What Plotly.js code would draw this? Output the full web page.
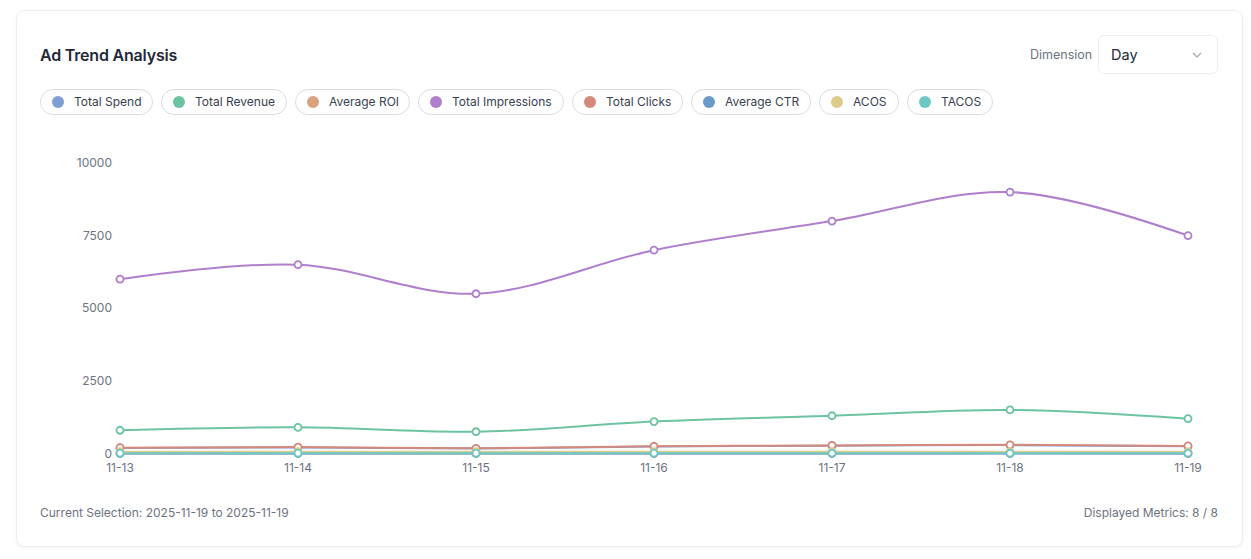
<!DOCTYPE html>
<html>
<head>
<meta charset="utf-8">
<script src="https://cdn.plot.ly/plotly-3.0.1.min.js"></script>
<style>
  html, body { margin:0; padding:0; background:#ffffff; font-family: Inter, "Noto Sans", sans-serif; }
  #page { position:relative; width:1251px; height:559px; overflow:hidden; }
  #card { position:absolute; left:16px; top:10px; width:1225px; height:535px; border:1px solid #eceef1; border-radius:8px; box-shadow:0 1px 3px rgba(0,0,0,0.05); background:#fff; }
  #title { position:absolute; left:40px; top:45px; font-size:16px; font-weight:600; color:#1f2937; letter-spacing:-0.2px; }
  #dimlabel { position:absolute; left:1030px; top:47px; font-size:12.5px; color:#6b7280; }
  #select { position:absolute; left:1098px; top:35px; width:120px; height:39px; border:1px solid #eceef1; border-radius:6px; box-sizing:border-box; }
  #select span { position:absolute; left:12px; top:10px; font-size:14.5px; color:#1f2937; }
  #select svg { position:absolute; left:93px; top:16px; }
  #pills { position:absolute; left:40px; top:89px; height:26px; }
  .pill { position:absolute; top:0; height:24px; border:1px solid #d9dce1; border-radius:13px; box-sizing:content-box; font-size:12px; color:#374151; line-height:24px; white-space:nowrap; }
  .pill .dot { position:absolute; left:11px; top:6px; width:12px; height:12px; border-radius:50%; }
  .pill .lbl { position:absolute; left:33px; top:0; }
  #plot { position:absolute; left:0; top:0; width:1251px; height:559px; }
  #foot1 { position:absolute; left:40px; top:505px; font-size:12px; color:#6b7280; }
  #foot2 { position:absolute; right:33px; top:505px; font-size:12px; color:#6b7280; }
</style>
</head>
<body>
<div id="page">
  <div id="card"></div>
  <div id="plot"></div>
  <div id="title">Ad Trend Analysis</div>
  <div id="dimlabel">Dimension</div>
  <div id="select"><span>Day</span>
    <svg width="10" height="7" viewBox="0 0 10 7"><polyline points="1,1 5,5 9,1" fill="none" stroke="#9ca3af" stroke-width="1.2"/></svg>
  </div>
  <div id="pills"></div>
  <div id="foot1">Current Selection: 2025-11-19 to 2025-11-19</div>
  <div id="foot2">Displayed Metrics: 8 / 8</div>
</div>
<script>
const dates = ["11-13","11-14","11-15","11-16","11-17","11-18","11-19"];
const seriesNames = ["Total Spend","Total Revenue","Average ROI","Total Impressions","Total Clicks","Average CTR","ACOS","TACOS"];
const seriesColors = ["#7e9fd6","#6cc3a0","#d9a27c","#b07fcc","#d5897b","#6a9bc8","#dccb8a","#6cc8c5"];
const totalSpend = [190,210,170,240,270,290,250];
const totalRevenue = [800,900,750,1100,1300,1500,1200];
const averageROI = [4,4.1,4.2,4.4,4.6,5,4.6];
const totalImpressions = [6000,6500,5500,7000,8000,9000,7500];
const totalClicks = [200,220,180,250,280,300,260];
const averageCTR = [3.3,3.4,3.3,3.6,3.5,3.3,3.5];
const acos = [60,60,60,60,60,60,60];
const tacos = [12,11,12,11,10,9,10];
const yTicks = [0,2500,5000,7500,10000];

const allValues = [totalSpend,totalRevenue,averageROI,totalImpressions,totalClicks,averageCTR,acos,tacos];

// pills
const pillWidths = [113,126,115,146,111,120,80,86];
const pillGaps = 8;
let px = 0;
const pillsEl = document.getElementById('pills');
seriesNames.forEach((n,i)=>{
  const p = document.createElement('div');
  p.className='pill';
  p.style.left = px+'px';
  p.style.width = (pillWidths[i]-2)+'px';
  p.innerHTML = '<div class="dot" style="background:'+seriesColors[i]+'"></div><div class="lbl">'+n+'</div>';
  pillsEl.appendChild(p);
  px += pillWidths[i]+pillGaps;
});

const traces = seriesNames.map((n,i)=>({
  x: dates, y: allValues[i], name:n, type:'scatter', mode:'lines+markers',
  line:{color:seriesColors[i], width:2, shape:'spline', smoothing:1},
  marker:{symbol:'circle', size:7, color:'#ffffff', line:{color:seriesColors[i], width:1.8}},
  cliponaxis:false
}));

const layout = {
  width:1251, height:559,
  margin:{l:120, r:63, t:163, b:101.5},
  paper_bgcolor:'rgba(0,0,0,0)', plot_bgcolor:'rgba(0,0,0,0)',
  showlegend:false,
  font:{family:'Inter, "Noto Sans", sans-serif', size:12, color:'#6b7280'},
  xaxis:{type:'category', range:[0,6], showgrid:false, zeroline:false, showline:false, ticks:'', ticklen:0, ticklabelstandoff:2, tickfont:{size:12, color:'#6b7280'}, automargin:false},
  yaxis:{range:[-120,10000], tickvals:yTicks, ticktext:yTicks.map(String), showgrid:false, zeroline:false, showline:false, ticks:'', ticklabelstandoff:7, tickfont:{size:12, color:'#6b7280'}, automargin:false}
};
Plotly.newPlot('plot', traces, layout, {displayModeBar:false, staticPlot:true});
</script>
</body>
</html>
